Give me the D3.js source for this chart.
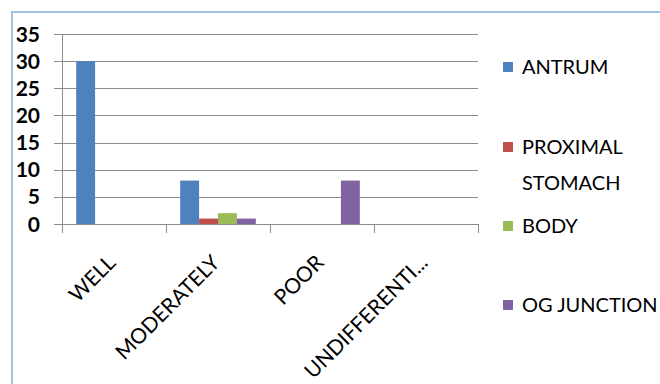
<!DOCTYPE html>
<html>
<head>
<meta charset="utf-8">
<script src="https://cdn.jsdelivr.net/npm/d3@7"></script>
<style>
  html, body { margin: 0; padding: 0; background: #fff; }
  svg { display: block; }
  text { font-family: Lato, "Open Sans", sans-serif; fill: #000; }
</style>
</head>
<body>
<svg id="chart" width="660" height="384"></svg>
<script>
// Differentiation grade by tumour site
const categories = ["WELL", "MODERATELY", "POOR", "UNDIFFERENTI..."];
const seriesNames = ["ANTRUM", "PROXIMAL STOMACH", "BODY", "OG JUNCTION"];
const antrum = [30, 8, 0, 0];
const proximalStomach = [0, 1, 0, 0];
const bodySite = [0, 2, 0, 0];
const ogJunction = [0, 1, 8, 0];
const yTicks = [0, 5, 10, 15, 20, 25, 30, 35];
const colors = ["#4F81BD", "#C0504D", "#9BBB59", "#8064A2"];

const series = [antrum, proximalStomach, bodySite, ogJunction];

const svg = d3.select("#chart");

// outer chart frame
svg.append("rect")
  .attr("x", 12).attr("y", 12)
  .attr("width", 700).attr("height", 400)
  .attr("fill", "none")
  .attr("stroke", "#9DC3E6")
  .attr("stroke-width", 2);

const plot = { left: 62, right: 478, top: 34, bottom: 224 };

const x = d3.scaleBand()
  .domain(categories)
  .range([plot.left, plot.right])
  .padding(0);

// bars inside each category with a 150% gap width
const bw = x.bandwidth();
const barW = bw / 5.5;
const offset = (bw - barW * series.length) / 2;
const xs = d3.scaleBand()
  .domain(d3.range(series.length))
  .range([offset, offset + barW * series.length])
  .padding(0);

const y = d3.scaleLinear().domain([0, 35]).range([plot.bottom, plot.top]);

// gridlines
svg.append("g")
  .selectAll("line")
  .data(yTicks)
  .join("line")
  .attr("x1", plot.left - 8)
  .attr("x2", plot.right)
  .attr("y1", d => Math.round(y(d)) + 0.5)
  .attr("y2", d => Math.round(y(d)) + 0.5)
  .attr("stroke", "#8C8C8C")
  .attr("stroke-width", 1);

// y axis line
svg.append("line")
  .attr("x1", plot.left + 0.5).attr("x2", plot.left + 0.5)
  .attr("y1", plot.top).attr("y2", plot.bottom)
  .attr("stroke", "#8C8C8C");

// category tick marks
const tickXs = categories.map(c => x(c)).concat([plot.right]);
svg.append("g")
  .selectAll("line")
  .data(tickXs)
  .join("line")
  .attr("x1", d => Math.round(d) + 0.5)
  .attr("x2", d => Math.round(d) + 0.5)
  .attr("y1", plot.bottom)
  .attr("y2", plot.bottom + 9)
  .attr("stroke", "#8C8C8C");

// y labels
svg.append("g")
  .selectAll("text")
  .data(yTicks)
  .join("text")
  .attr("x", 40)
  .attr("y", d => y(d))
  .attr("dy", "0.36em")
  .attr("text-anchor", "end")
  .attr("font-size", 21)
  .attr("font-weight", "bold")
  .text(d => d);

// bars
series.forEach((vals, si) => {
  svg.append("g")
    .selectAll("rect")
    .data(vals.map((v, ci) => ({ v, c: categories[ci] })).filter(d => d.v > 0))
    .join("rect")
    .attr("x", d => x(d.c) + xs(si))
    .attr("width", xs.bandwidth())
    .attr("y", d => y(d.v))
    .attr("height", d => y(0) - y(d.v))
    .attr("fill", colors[si]);
});

// x labels
svg.append("g")
  .selectAll("text")
  .data(categories)
  .join("text")
  .attr("transform", d => `translate(${x(d) + bw / 2 + 3},${plot.bottom + 40}) rotate(-45)`)
  .attr("text-anchor", "end")
  .attr("font-size", 21)
  .text(d => d);

// legend
const legendRows = [
  { lines: ["ANTRUM"], y: 67 },
  { lines: ["PROXIMAL", "STOMACH"], y: 147 },
  { lines: ["BODY"], y: 226 },
  { lines: ["OG JUNCTION"], y: 305 }
];
const legend = svg.append("g");
legendRows.forEach((r, i) => {
  legend.append("rect")
    .attr("x", 503).attr("y", r.y - 5)
    .attr("width", 10).attr("height", 10)
    .attr("fill", colors[i]);
  r.lines.forEach((ln, j) => {
    legend.append("text")
      .attr("x", 522)
      .attr("y", r.y + j * 36)
      .attr("dy", "0.36em")
      .attr("font-size", 20)
      .text(ln);
  });
});
</script>
</body>
</html>
